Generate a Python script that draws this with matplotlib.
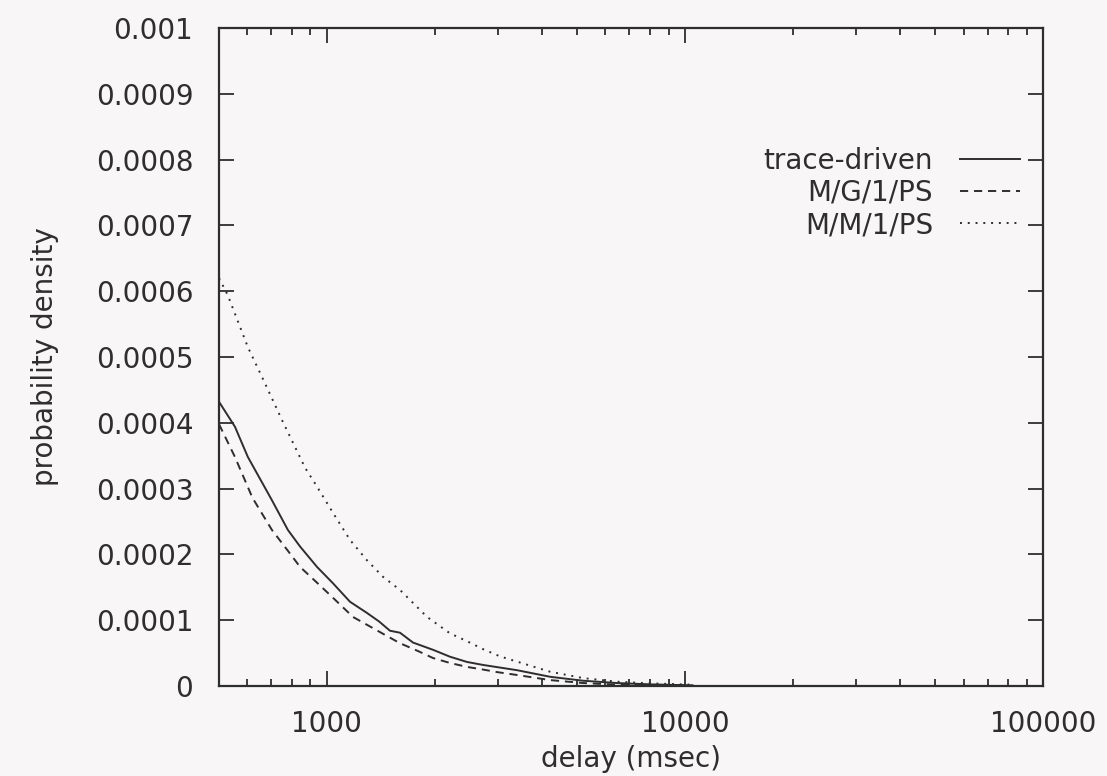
import matplotlib
matplotlib.use("Agg")
import matplotlib.pyplot as plt
from matplotlib.ticker import FixedLocator, LogLocator, NullFormatter

# Delay distributions (delay in msec, probability density)
delay_trace = [500, 554, 602, 700, 779, 842, 939, 1041, 1161, 1295, 1400, 1501,
               1601, 1741, 1980, 2208, 2465, 2731, 3400, 4203, 5200, 6465, 8000, 10500]
density_trace = [4.32e-4, 3.94e-4, 3.48e-4, 2.84e-4, 2.37e-4, 2.12e-4, 1.81e-4, 1.56e-4,
                 1.28e-4, 1.11e-4, 0.98e-4, 0.84e-4, 0.81e-4, 0.66e-4, 0.55e-4, 0.445e-4,
                 0.365e-4, 0.32e-4, 0.24e-4, 0.14e-4, 0.08e-4, 0.045e-4, 0.025e-4, 0.01e-4]

delay_mg1 = [500, 554, 620, 703, 780, 842, 939, 1041, 1183, 1295, 1450, 1601,
             1800, 1980, 2208, 2465, 2731, 3000, 3400, 4203, 5200, 6465, 8000, 10500]
density_mg1 = [3.98e-4, 3.48e-4, 2.86e-4, 2.37e-4, 2.05e-4, 1.81e-4, 1.57e-4, 1.34e-4,
               1.05e-4, 0.93e-4, 0.78e-4, 0.65e-4, 0.53e-4, 0.425e-4, 0.35e-4, 0.29e-4,
               0.25e-4, 0.21e-4, 0.167e-4, 0.09e-4, 0.045e-4, 0.02e-4, 0.012e-4, 0.005e-4]

delay_mm1 = [500, 529, 602, 672, 750, 869, 939, 1041, 1161, 1295, 1435, 1601,
             1905, 2208, 2465, 2731, 3047, 3400, 4203, 5200, 6465, 8000, 10500]
density_mm1 = [6.2e-4, 5.94e-4, 5.15e-4, 4.6e-4, 4.04e-4, 3.32e-4, 3.03e-4, 2.63e-4,
               2.22e-4, 1.91e-4, 1.66e-4, 1.46e-4, 1.05e-4, 0.80e-4, 0.68e-4, 0.56e-4,
               0.45e-4, 0.37e-4, 0.217e-4, 0.12e-4, 0.065e-4, 0.04e-4, 0.02e-4]

series_labels = ["trace-driven", "M/G/1/PS", "M/M/1/PS"]

y_ticks = [0, 0.0001, 0.0002, 0.0003, 0.0004, 0.0005, 0.0006, 0.0007, 0.0008, 0.0009, 0.001]
y_tick_labels = ["0", "0.0001", "0.0002", "0.0003", "0.0004", "0.0005",
                 "0.0006", "0.0007", "0.0008", "0.0009", "0.001"]
x_ticks = [1000, 10000, 100000]
x_tick_labels = ["1000", "10000", "100000"]

ink = "#2e2e2e"
paper = "#f8f6f7"
fs = 20

plt.rcParams["font.family"] = ["DejaVu Sans"]

fig = plt.figure(figsize=(11.07, 7.76), dpi=100, facecolor=paper)
ax = fig.add_axes([219 / 1107, 1 - 686 / 776, (1043 - 219) / 1107, (686 - 28) / 776])
ax.set_facecolor(paper)

lw = 1.4
ax.plot(delay_trace, density_trace, color=ink, lw=lw, label=series_labels[0])
ax.plot(delay_mg1, density_mg1, color=ink, lw=lw, linestyle=(0, (4.2, 3.0)),
        label=series_labels[1])
ax.plot(delay_mm1, density_mm1, color=ink, lw=lw, linestyle=(0, (1, 3.0)),
        label=series_labels[2])

ax.set_xscale("log")
ax.set_xlim(500, 100000)
ax.set_ylim(0, 0.001)

ax.xaxis.set_major_locator(FixedLocator(x_ticks))
ax.set_xticklabels(x_tick_labels)
ax.xaxis.set_minor_locator(LogLocator(base=10, subs=range(2, 10)))
ax.xaxis.set_minor_formatter(NullFormatter())
ax.set_yticks(y_ticks)
ax.set_yticklabels(y_tick_labels)
ax.yaxis.set_minor_locator(FixedLocator([]))

for side in ax.spines.values():
    side.set_color(ink)
    side.set_linewidth(1.6)

ax.tick_params(which="both", direction="in", top=True, right=True, color=ink,
               labelcolor=ink, labelsize=fs, width=1.3)
ax.tick_params(which="major", length=11)
ax.tick_params(which="minor", length=5)
ax.tick_params(axis="y", which="major", pad=18.5)
ax.tick_params(axis="x", which="major", pad=17.5)

ax.set_xlabel("delay (msec)", fontsize=fs, color=ink, va="baseline")
ax.xaxis.set_label_coords(0.5, (686 - 767) / 658)
ax.set_ylabel("probability density", fontsize=fs, color=ink, va="center")
ax.yaxis.set_label_coords((45 - 219) / 824, 0.5)

leg = ax.legend(loc="center right", bbox_to_anchor=((1020 - 219) / 824, (686 - 193) / 658),
                frameon=False, markerfirst=False, fontsize=fs, handlelength=2.16,
                handletextpad=0.97, labelspacing=0.15, borderpad=0, borderaxespad=0)
for t in leg.get_texts():
    t.set_color(ink)

fig.savefig("out.png", dpi=100, facecolor=paper)
